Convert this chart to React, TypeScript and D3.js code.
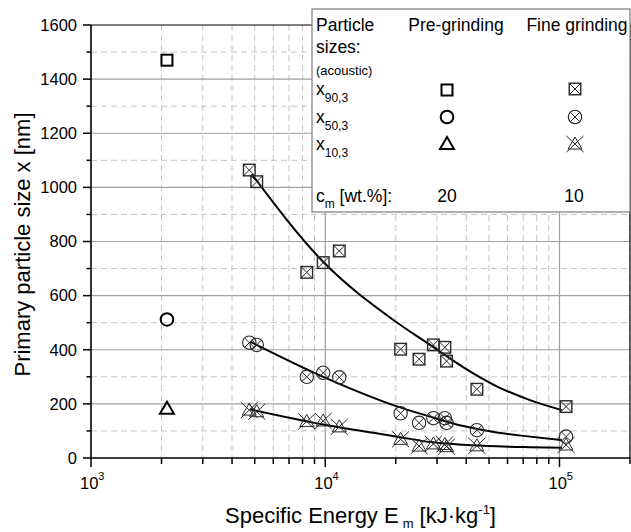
import React from 'react';
import * as d3 from 'd3';

const W = 631;
const H = 532;
const PL = 91, PR = 630, PT = 25, PB = 458;
const FONT = 'Liberation Sans, Arial, Helvetica, sans-serif';

// Pre-grinding (acoustic), c_m = 20 wt.%
const preEnergy = [2110];
const preX90 = [1470];
const preX50 = [512];
const preX10 = [182];

// Fine grinding, c_m = 10 wt.%
const fineEnergy = [4740, 5100, 8340, 9800, 11480, 20980, 25150, 28950, 32400, 32950, 44400, 106700];
const fineX90 = [1064, 1021, 686, 722, 765, 402, 365, 418, 409, 358, 254, 190];
const fineX50 = [426, 418, 300, 315, 298, 165, 130, 147, 147, 130, 103, 79];
const fineX10 = [177, 171, 135, 137, 115, 69, 44, 52, 50, 42, 45, 48];

// Fit curves
const fit90E = [4853, 9800, 19540, 28030, 38900, 53950, 74800, 102400];
const fit90Y = [1049, 725, 510, 418, 335, 265, 214, 177];
const fit50E = [4775, 9800, 20880, 28030, 38900, 53950, 74800, 102400];
const fit50Y = [430, 300, 187, 153, 118, 94, 79, 66];
const fit10E = [4775, 9800, 16060, 20880, 28030, 38900, 53950, 74800, 102400];
const fit10Y = [180, 124, 93, 77, 59, 49, 43, 40, 38];

const yMajorTicks = [0, 200, 400, 600, 800, 1000, 1200, 1400, 1600];
const yMinorTicks = [100, 300, 500, 700, 900, 1100, 1300, 1500];
const xMajorTicks = [1e3, 1e4, 1e5];
const xMajorExp = ['3', '4', '5'];
const xMinorTicks = [2e3, 3e3, 4e3, 5e3, 6e3, 7e3, 8e3, 9e3, 2e4, 3e4, 4e4, 5e4, 6e4, 7e4, 8e4, 9e4, 2e5];

const x = d3.scaleLog().domain([1e3, 2e5]).range([PL, PR]);
const y = d3.scaleLinear().domain([0, 1600]).range([PB, PT]);

const DARK = '#000';
const FINE = '#2a2a2a';

function PreSquare({ cx, cy }: { cx: number; cy: number }) {
  return <rect x={cx - 5.5} y={cy - 5.5} width={11} height={11} fill="none" stroke={DARK} strokeWidth={2} />;
}
function PreCircle({ cx, cy }: { cx: number; cy: number }) {
  return <circle cx={cx} cy={cy} r={6.3} fill="none" stroke={DARK} strokeWidth={2} />;
}
function PreTriangle({ cx, cy }: { cx: number; cy: number }) {
  const p = `${cx},${cy - 7} ${cx + 7},${cy + 5} ${cx - 7},${cy + 5}`;
  return <polygon points={p} fill="none" stroke={DARK} strokeWidth={2} strokeLinejoin="miter" />;
}
function FineSquare({ cx, cy }: { cx: number; cy: number }) {
  const s = 5.8;
  return (
    <g stroke={FINE} fill="none">
      <rect x={cx - s} y={cy - s} width={2 * s} height={2 * s} strokeWidth={1.4} />
      <line x1={cx - s} y1={cy - s} x2={cx + s} y2={cy + s} strokeWidth={1} />
      <line x1={cx - s} y1={cy + s} x2={cx + s} y2={cy - s} strokeWidth={1} />
    </g>
  );
}
function FineCircle({ cx, cy }: { cx: number; cy: number }) {
  const r = 6.7;
  const d = r * 0.72;
  return (
    <g stroke={FINE} fill="none">
      <circle cx={cx} cy={cy} r={r} strokeWidth={1.1} />
      <line x1={cx - d} y1={cy - d} x2={cx + d} y2={cy + d} strokeWidth={1} />
      <line x1={cx - d} y1={cy + d} x2={cx + d} y2={cy - d} strokeWidth={1} />
    </g>
  );
}
function FineStar({ cx, cy }: { cx: number; cy: number }) {
  const p = `${cx},${cy - 7} ${cx + 7},${cy + 5} ${cx - 7},${cy + 5}`;
  return (
    <g stroke={FINE} fill="none" strokeWidth={1}>
      <polygon points={p} />
      <line x1={cx - 8.5} y1={cy - 8} x2={cx + 8.5} y2={cy + 8} />
      <line x1={cx - 8.5} y1={cy + 8} x2={cx + 8.5} y2={cy - 8} />
    </g>
  );
}

export default function App() {
  const line = d3
    .line<[number, number]>()
    .x((d) => x(d[0]))
    .y((d) => y(d[1]))
    .curve(d3.curveMonotoneX);

  const fits = [
    fit90E.map((e, i) => [e, fit90Y[i]] as [number, number]),
    fit50E.map((e, i) => [e, fit50Y[i]] as [number, number]),
    fit10E.map((e, i) => [e, fit10Y[i]] as [number, number]),
  ];

  const tickFont = 16.5;
  const legFont = 17.5;
  const titleFont = 22;
  const LX = 312, LY = 9, LW = 318, LH = 203;

  return (
    <svg
      width={W}
      height={H}
      viewBox={`0 0 ${W} ${H}`}
      style={{ position: 'absolute', left: 0, top: 0, background: '#fff' }}
      fontFamily={FONT}
    >
      <rect x={0} y={0} width={W} height={H} fill="#fff" />
      {/* minor grid */}
      <g stroke="#c4c4c4" strokeWidth={1} strokeDasharray="6,4">
        {yMinorTicks.map((t) => (
          <line key={'ym' + t} x1={PL} x2={PR} y1={y(t)} y2={y(t)} />
        ))}
        {xMinorTicks.map((t) => (
          <line key={'xm' + t} x1={x(t)} x2={x(t)} y1={PT} y2={PB} />
        ))}
      </g>
      {/* major grid */}
      <g stroke="#a0a0a0" strokeWidth={1.2}>
        {yMajorTicks.filter((t) => t > 0 && t < 1600).map((t) => (
          <line key={'yM' + t} x1={PL} x2={PR} y1={y(t)} y2={y(t)} />
        ))}
        {xMajorTicks.filter((t) => t > 1e3).map((t) => (
          <line key={'xM' + t} x1={x(t)} x2={x(t)} y1={PT} y2={PB} />
        ))}
      </g>

      {/* fit curves */}
      {fits.map((f, i) => (
        <path key={'fit' + i} d={line(f) || ''} fill="none" stroke="#000" strokeWidth={2} />
      ))}

      {/* fine grinding markers */}
      {fineEnergy.map((e, i) => (
        <FineSquare key={'fs' + i} cx={x(e)} cy={y(fineX90[i])} />
      ))}
      {fineEnergy.map((e, i) => (
        <FineCircle key={'fc' + i} cx={x(e)} cy={y(fineX50[i])} />
      ))}
      {fineEnergy.map((e, i) => (
        <FineStar key={'ft' + i} cx={x(e)} cy={y(fineX10[i])} />
      ))}
      {/* pre-grinding markers */}
      {preEnergy.map((e, i) => (
        <PreSquare key={'ps' + i} cx={x(e)} cy={y(preX90[i])} />
      ))}
      {preEnergy.map((e, i) => (
        <PreCircle key={'pc' + i} cx={x(e)} cy={y(preX50[i])} />
      ))}
      {preEnergy.map((e, i) => (
        <PreTriangle key={'pt' + i} cx={x(e)} cy={y(preX10[i])} />
      ))}

      {/* frame */}
      <line x1={PL} x2={PR} y1={PT} y2={PT} stroke="#000" strokeWidth={1.2} />
      <line x1={PR} x2={PR} y1={PT} y2={PB} stroke="#000" strokeWidth={1.2} />
      <line x1={PL} x2={PL} y1={PT} y2={PB + 1} stroke="#000" strokeWidth={1.6} />
      <line x1={PL - 0.8} x2={PR} y1={PB} y2={PB} stroke="#000" strokeWidth={1.6} />

      {/* y ticks */}
      <g stroke="#000" strokeWidth={1.5}>
        {yMajorTicks.map((t) => (
          <line key={'yt' + t} x1={PL - 8} x2={PL} y1={y(t)} y2={y(t)} />
        ))}
        {yMinorTicks.map((t) => (
          <line key={'ytm' + t} x1={PL - 4.5} x2={PL} y1={y(t)} y2={y(t)} />
        ))}
      </g>
      <g fontSize={tickFont} textAnchor="end" fill="#000">
        {yMajorTicks.map((t) => (
          <text key={'yl' + t} x={PL - 14} y={y(t)} dy="0.35em">
            {t}
          </text>
        ))}
      </g>
      {/* x ticks */}
      <g stroke="#000" strokeWidth={1.5}>
        {xMajorTicks.map((t) => (
          <line key={'xt' + t} x1={x(t)} x2={x(t)} y1={PB} y2={PB + 9} />
        ))}
        {xMinorTicks.map((t) => (
          <line key={'xtm' + t} x1={x(t)} x2={x(t)} y1={PB} y2={PB + 6} />
        ))}
      </g>
      <g fontSize={tickFont} fill="#000">
        {xMajorTicks.map((t, i) => (
          <text key={'xl' + t} x={x(t) - 11} y={489}>
            10
            <tspan fontSize={11} dy={-9}>
              {xMajorExp[i]}
            </tspan>
          </text>
        ))}
      </g>

      {/* axis titles */}
      <text x={(PL + PR) / 2} y={523} fontSize={titleFont} textAnchor="middle" fill="#000">
        Specific Energy E
        <tspan fontSize={13} dx={4} dy={5}>
          m
        </tspan>
        <tspan dy={-5}> [kJ·kg</tspan>
        <tspan fontSize={13} dy={-9}>
          -1
        </tspan>
        <tspan dy={9}>]</tspan>
      </text>
      <text
        transform={`translate(30, ${(PT + PB) / 2 + 3}) rotate(-90)`}
        fontSize={titleFont}
        textAnchor="middle"
        fill="#000"
      >
        Primary particle size x [nm]
      </text>

      {/* legend */}
      <rect x={LX} y={LY} width={LW} height={LH} fill="#fff" stroke="#7a7a7a" strokeWidth={1.2} />
      <g fontSize={legFont} fill="#000">
        <text x={316} y={31}>Particle</text>
        <text x={316} y={53}>sizes:</text>
        <text x={316} y={75} fontSize={13}>
          (acoustic)
        </text>
        <text x={316} y={95}>
          x<tspan fontSize={12} dy={7}>90,3</tspan>
        </text>
        <text x={316} y={123}>
          x<tspan fontSize={12} dy={7}>50,3</tspan>
        </text>
        <text x={316} y={150}>
          x<tspan fontSize={12} dy={7}>10,3</tspan>
        </text>
        <text x={316} y={202}>
          c<tspan fontSize={12} dy={6}>m</tspan>
          <tspan dy={-6}> [wt.%]:</tspan>
        </text>
        <text x={456} y={31} textAnchor="middle">
          Pre-grinding
        </text>
        <text x={577} y={31} textAnchor="middle">
          Fine grinding
        </text>
        <text x={447} y={202} textAnchor="middle">
          20
        </text>
        <text x={574} y={202} textAnchor="middle">
          10
        </text>
      </g>
      <PreSquare cx={447} cy={90} />
      <PreCircle cx={447} cy={117} />
      <PreTriangle cx={447} cy={144} />
      <FineSquare cx={575} cy={89} />
      <FineCircle cx={575} cy={117} />
      <FineStar cx={575} cy={144} />
    </svg>
  );
}
